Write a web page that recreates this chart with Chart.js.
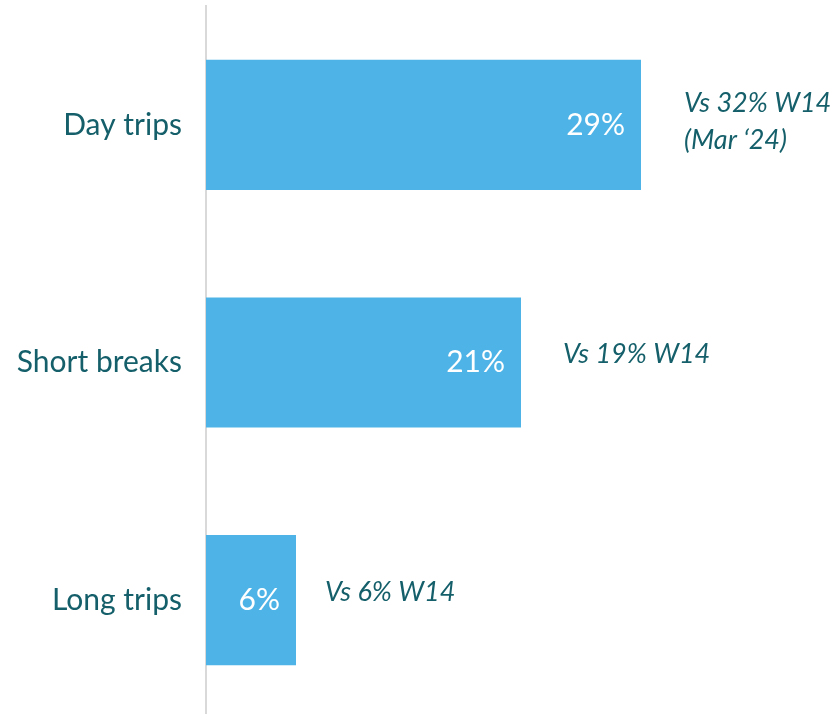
<!DOCTYPE html>
<html>
<head>
<meta charset="utf-8">
<script src="https://cdn.jsdelivr.net/npm/chart.js@4"></script>
<style>
    html, body { margin: 0; padding: 0; background: #fff; overflow: hidden; }
    #wrap { position: relative; width: 833px; height: 720px; }
</style>
</head>
<body>
<div id="wrap"><canvas id="chart1"></canvas></div>
<script>
// data
var categories = ['Day trips', 'Short breaks', 'Long trips'];
var shares = [29, 21, 6];
var notes = [['Vs 32% W14', '(Mar \u201824)'], ['Vs 19% W14'], ['Vs 6% W14']];

var textColor = '#145f6a';
var barColor = '#4eb3e6';

// value labels inside the bars + the "Vs ..." notes on the right
var labelPlugin = {
    id: 'labelPlugin',
    afterDatasetsDraw: function (chart) {
        var ctx = chart.ctx;
        var meta = chart.getDatasetMeta(0);
        var gaps = [43, 42, 29];
        ctx.save();
        meta.data.forEach(function (bar, i) {
            ctx.textBaseline = 'middle';
            ctx.fillStyle = '#ffffff';
            ctx.textAlign = 'right';
            ctx.font = '30px Lato';
            ctx.fillText(shares[i] + '%', bar.x - 16, bar.y);

            ctx.fillStyle = textColor;
            ctx.textAlign = 'left';
            ctx.font = 'italic 27px Lato';
            var lines = notes[i];
            var lh = 37;
            var shift = lines.length > 1 ? -3 : -8;
            var top = bar.y + shift - (lines.length - 1) * lh / 2;
            lines.forEach(function (t, j) {
                ctx.fillText(t, bar.x + gaps[i], top + j * lh);
            });
        });
        ctx.restore();
    }
};

var ctx1 = document.getElementById('chart1');
var myChart = new Chart(ctx1, {
    type: 'bar',
    data: {
        labels: categories,
        datasets: [{
            data: shares,
            backgroundColor: barColor,
            borderWidth: 0,
            barPercentage: 0.75,
            categoryPercentage: 0.73
        }]
    },
    options: {
        indexAxis: 'y',
        responsive: true,
        maintainAspectRatio: false,
        animation: false,
        layout: {
            padding: { top: 6, bottom: 1, left: 0, right: 12 }
        },
        plugins: {
            legend: { display: false },
            tooltip: { enabled: false }
        },
        scales: {
            x: {
                display: false,
                min: 0,
                max: 41
            },
            y: {
                grid: { display: false, drawTicks: false },
                border: { display: true, color: '#d9d9d9', width: 2 },
                ticks: {
                    color: textColor,
                    font: { family: 'Lato', size: 30 },
                    padding: 24
                },
                afterFit: function (scale) {
                    scale.width = 206;
                    scale.paddingTop = 0;
                    scale.paddingBottom = 0;
                }
            }
        }
    },
    plugins: [labelPlugin]
});
</script>
</body>
</html>
